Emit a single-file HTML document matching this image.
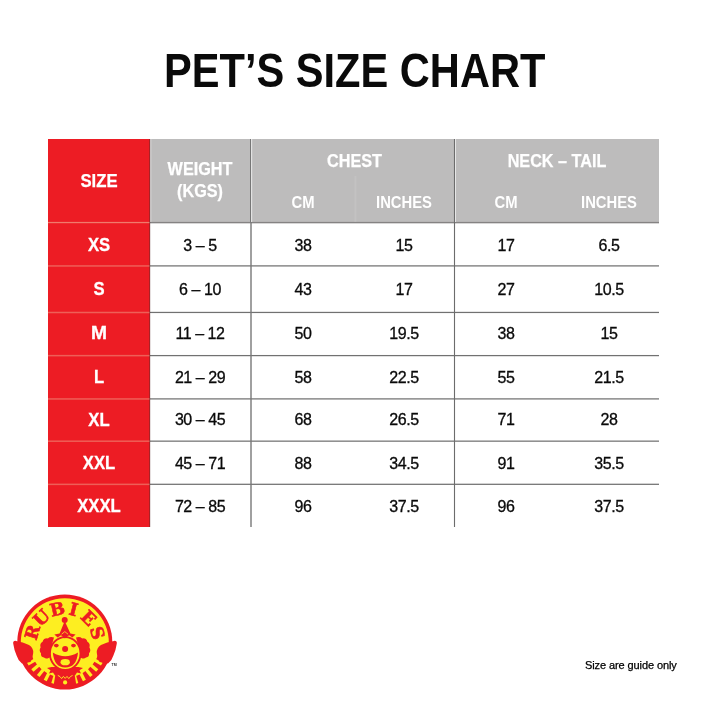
<!DOCTYPE html>
<html lang="en">
<head>
<meta charset="utf-8">
<title>Pet's Size Chart</title>
<style>
html,body{margin:0;padding:0;background:#fff;}
body{width:708px;height:708px;position:relative;overflow:hidden;font-family:"Liberation Sans",sans-serif;}
.abs{position:absolute;}
#title{left:164px;top:40.3px;width:500px;height:60px;white-space:nowrap;font-weight:bold;font-size:48.7px;line-height:60px;color:#0a0a0a;transform:scaleX(0.8545);transform-origin:0 50%;}
#title span{display:inline-block;transform-origin:0 50%;}
.red{background:#ed1c24;}
.gray{background:#bdbcbc;}
.hl{height:1px;background:#8a8a8a;left:150px;width:509px;}
.hlr{height:1px;background:#f2756f;left:48px;width:102px;}
.vl{width:1px;background:#7e7e7e;}
.vll{width:1px;background:#d9d9d9;}
.c{text-align:center;white-space:nowrap;}
.hd{color:#fff;font-weight:bold;font-size:18px;line-height:20px;transform:scaleX(0.9);-webkit-text-stroke:0.25px #fff;}
.sub{color:#fff;font-weight:bold;font-size:17px;line-height:20px;transform:scaleX(0.87);}
.sz{color:#fff;font-weight:bold;font-size:18.5px;line-height:20px;left:48px;width:102px;transform:scaleX(0.9);-webkit-text-stroke:0.3px #fff;}
.d{color:#0a0a0a;font-size:16px;line-height:20px;width:100px;letter-spacing:-0.45px;-webkit-text-stroke:0.3px #0a0a0a;}
.w{left:150px;}
.c1{left:253px;}
.c2{left:354px;}
.n1{left:456px;}
.n2{left:559px;}
#note{left:585px;top:657px;font-size:11px;letter-spacing:-0.1px;line-height:16px;color:#000;white-space:nowrap;-webkit-text-stroke:0.25px #000;}
</style>
</head>
<body>
<div id="title" class="abs"><span>PET’S SIZE CHART</span></div>

<!-- table backgrounds -->
<div class="abs red" style="left:48px;top:139px;width:102px;height:388px;"></div>
<div class="abs gray" style="left:150px;top:139px;width:509px;height:83px;"></div>

<!-- RULES -->
<svg id="rules" class="abs" style="left:0;top:0;" width="708" height="708" viewBox="0 0 708 708">
<rect x="150" y="221.9" width="509" height="1.25" fill="#858383"/>
<rect x="150" y="223.1" width="509" height="0.9" fill="#000" fill-opacity="0.1"/>
<rect x="48" y="221.9" width="102" height="1.3" fill="#f07a6c"/>
<rect x="150" y="265.28" width="509" height="1.24" fill="#717171"/>
<rect x="48" y="265.20" width="102" height="1.5" fill="#ee5f57"/>
<rect x="150" y="311.83" width="509" height="1.24" fill="#717171"/>
<rect x="48" y="311.75" width="102" height="1.5" fill="#ee5f57"/>
<rect x="150" y="354.98" width="509" height="1.24" fill="#717171"/>
<rect x="48" y="354.90" width="102" height="1.5" fill="#ee5f57"/>
<rect x="150" y="398.28" width="509" height="1.24" fill="#717171"/>
<rect x="48" y="398.20" width="102" height="1.5" fill="#ee5f57"/>
<rect x="150" y="440.53" width="509" height="1.24" fill="#717171"/>
<rect x="48" y="440.45" width="102" height="1.5" fill="#ee5f57"/>
<rect x="150" y="483.68" width="509" height="1.24" fill="#717171"/>
<rect x="48" y="483.60" width="102" height="1.5" fill="#ee5f57"/>
<rect x="149.1" y="139" width="1.2" height="388" fill="#5a2a2a" fill-opacity="0.5"/>
<rect x="150.3" y="139" width="1" height="83" fill="#fff" fill-opacity="0.45"/>
<rect x="250.3" y="139" width="1.4" height="388" fill="#787878"/>
<rect x="251" y="139" width="1.2" height="83" fill="#e2e2e2"/>
<rect x="250" y="139" width="1" height="83" fill="#777"/>
<rect x="453.95" y="139" width="1.1" height="388" fill="#6c6c6c"/>
<rect x="455" y="139" width="1" height="83" fill="#e6e6e6"/>
<rect x="354.4" y="176" width="2" height="46" fill="#fff" fill-opacity="0.1"/>
</svg>

<!-- header text -->
<div class="abs c hd" style="left:47.8px;width:102px;top:170.6px;transform:scaleX(0.93);">SIZE</div>
<div class="abs c hd" style="left:150px;width:100px;top:158.3px;line-height:22px;">WEIGHT<br>(KGS)</div>
<div class="abs c hd" style="left:252.5px;width:203px;top:150.8px;">CHEST</div>
<div class="abs c hd" style="left:455px;width:204px;top:150.8px;">NECK – TAIL</div>
<div class="abs c sub c1" style="width:100px;top:193px;">CM</div>
<div class="abs c sub c2" style="width:100px;top:193px;">INCHES</div>
<div class="abs c sub n1" style="width:100px;top:193px;">CM</div>
<div class="abs c sub n2" style="width:100px;top:193px;">INCHES</div>

<!-- rows -->
<div class="abs c sz" style="top:234.8px;">XS</div>
<div class="abs c d w" style="top:235.5px;">3 – 5</div>
<div class="abs c d c1" style="top:235.5px;">38</div>
<div class="abs c d c2" style="top:235.5px;">15</div>
<div class="abs c d n1" style="top:235.5px;">17</div>
<div class="abs c d n2" style="top:235.5px;">6.5</div>

<div class="abs c sz" style="top:278.9px;">S</div>
<div class="abs c d w" style="top:279.6px;">6 – 10</div>
<div class="abs c d c1" style="top:279.6px;">43</div>
<div class="abs c d c2" style="top:279.6px;">17</div>
<div class="abs c d n1" style="top:279.6px;">27</div>
<div class="abs c d n2" style="top:279.6px;">10.5</div>

<div class="abs c sz" style="top:323.0px;transform:scaleX(1.04);">M</div>
<div class="abs c d w" style="top:323.7px;">11 – 12</div>
<div class="abs c d c1" style="top:323.7px;">50</div>
<div class="abs c d c2" style="top:323.7px;">19.5</div>
<div class="abs c d n1" style="top:323.7px;">38</div>
<div class="abs c d n2" style="top:323.7px;">15</div>

<div class="abs c sz" style="top:367.0px;">L</div>
<div class="abs c d w" style="top:367.7px;">21 – 29</div>
<div class="abs c d c1" style="top:367.7px;">58</div>
<div class="abs c d c2" style="top:367.7px;">22.5</div>
<div class="abs c d n1" style="top:367.7px;">55</div>
<div class="abs c d n2" style="top:367.7px;">21.5</div>

<div class="abs c sz" style="top:409.6px;">XL</div>
<div class="abs c d w" style="top:410.3px;">30 – 45</div>
<div class="abs c d c1" style="top:410.3px;">68</div>
<div class="abs c d c2" style="top:410.3px;">26.5</div>
<div class="abs c d n1" style="top:410.3px;">71</div>
<div class="abs c d n2" style="top:410.3px;">28</div>

<div class="abs c sz" style="top:453.0px;">XXL</div>
<div class="abs c d w" style="top:453.7px;">45 – 71</div>
<div class="abs c d c1" style="top:453.7px;">88</div>
<div class="abs c d c2" style="top:453.7px;">34.5</div>
<div class="abs c d n1" style="top:453.7px;">91</div>
<div class="abs c d n2" style="top:453.7px;">35.5</div>

<div class="abs c sz" style="top:496.0px;">XXXL</div>
<div class="abs c d w" style="top:496.7px;">72 – 85</div>
<div class="abs c d c1" style="top:496.7px;">96</div>
<div class="abs c d c2" style="top:496.7px;">37.5</div>
<div class="abs c d n1" style="top:496.7px;">96</div>
<div class="abs c d n2" style="top:496.7px;">37.5</div>

<div id="note" class="abs">Size are guide only</div>

<!-- LOGO -->
<svg id="logo" class="abs" style="left:0;top:585px;" width="130" height="120" viewBox="0 585 130 120" role="img" aria-label="Rubies">
<defs><path id="arc" d="M 37.2 642.0 A 27.6 27.6 0 0 1 92.4 642.0"/></defs>
<circle cx="64.8" cy="642.0" r="47.5" fill="#ed1c24"/>
<path d="M 21.2 648.1 A 44 44 0 1 1 108.4 648.1 L 100.4 647.0 A 36 36 0 0 1 29.2 647.0 Z" fill="#fdee21"/>
<g stroke="#fdee21" stroke-width="3.3"><line x1="93.5" y1="659.3" x2="101.8" y2="664.2"/><line x1="36.1" y1="659.3" x2="27.8" y2="664.2"/><line x1="89.9" y1="664.2" x2="97.2" y2="670.6"/><line x1="39.7" y1="664.2" x2="32.4" y2="670.6"/><line x1="85.4" y1="668.4" x2="91.4" y2="676.0"/><line x1="44.2" y1="668.4" x2="38.2" y2="676.0"/><line x1="80.0" y1="671.8" x2="84.4" y2="680.5"/><line x1="49.6" y1="671.8" x2="45.2" y2="680.5"/><line x1="74.0" y1="674.2" x2="76.7" y2="683.5"/><line x1="55.6" y1="674.2" x2="52.9" y2="683.5"/></g>
<path d="M13.2 643.5 Q12.8 640.6 16 640.9 Q23 641.6 29 645 Q33.6 647.8 33.2 653 Q32.8 658.5 30.5 662 L22 663.5 Q18 660.5 16.6 655.5 Q14 649.5 13.2 643.5 Z" fill="#ed1c24"/>
<path d="M 116.8 643.5 Q 117.2 640.6 114 640.9 Q 107 641.6 101 645 Q 96.4 647.8 96.8 653 Q 97.2 658.5 99.5 662 L 108 663.5 Q 112 660.5 113.4 655.5 Q 116 649.5 116.8 643.5 Z" fill="#ed1c24"/>
<path d="M56 671 L74 671 L76.5 686 L53.5 686 Z" fill="#ed1c24"/>
<path d="M47 668 L51.5 667 L78.5 667 L83 668 L79.5 670.3 L81 673.6 L77 672.4 L75 675.4 L55 675.4 L53 672.4 L49 673.6 L50.5 670.3 Z" fill="#ed1c24"/>
<polyline points="57.8,675.4 60,676.6 61.6,678.6 63.4,676.4 65.2,678.4 67,676.4 68.8,678.6 70.4,676.6 72.6,675.4" fill="none" stroke="#fdee21" stroke-width="0.9" stroke-linejoin="miter"/>
<circle cx="65.1" cy="682.4" r="2.1" fill="#fdee21"/>
<path d="M54 637.6 Q50.5 636 47.8 638.4 Q43.6 638 42.6 641.8 Q39.4 643.6 40.6 647.4 Q38.6 650.4 41 653.2 Q40.4 656.8 44 657.6 Q46 659.4 48.6 658 L52 656 L51 648 Z" fill="#ed1c24"/>
<path d="M 76 637.6 Q 79.5 636 82.2 638.4 Q 86.4 638 87.4 641.8 Q 90.6 643.6 89.4 647.4 Q 91.4 650.4 89 653.2 Q 89.6 656.8 86 657.6 Q 84 659.4 81.4 658 L 78 656 L 79 648 Z" fill="#ed1c24"/>
<ellipse cx="65.2" cy="653.5" rx="15.3" ry="16.4" fill="#fdee21" stroke="#ed1c24" stroke-width="1.9"/>
<path d="M64.7 621 L70.4 633.6 L75.6 634.6 L72.4 637.4 L69 635.2 L65 638.4 L61 635.2 L57.6 637.4 L54.4 634.6 L59.6 633.6 Z" fill="#ed1c24"/>
<path d="M61.6 634.2 L64.8 631.6 L68 634.2" fill="none" stroke="#fdee21" stroke-width="0.8"/>
<circle cx="64.7" cy="620" r="3" fill="#ed1c24"/>
<ellipse cx="56.3" cy="645.6" rx="2.4" ry="1.8" fill="#ed1c24"/>
<ellipse cx="73.5" cy="645.6" rx="2.4" ry="1.8" fill="#ed1c24"/>
<circle cx="65.1" cy="649.1" r="3" fill="#ed1c24"/>
<path d="M52.8 652.4 Q65 660 78 652.4 Q76.6 667.4 65.2 667.4 Q54.2 667.4 52.8 652.4 Z" fill="#ed1c24"/>
<ellipse cx="65.2" cy="662.2" rx="4.7" ry="3.1" fill="#fdee21"/>
<text font-family="'DejaVu Serif','Liberation Serif',serif" font-weight="bold" font-size="17.5" fill="#ed1c24" stroke="#ed1c24" stroke-width="0.6" stroke-linejoin="round"><textPath href="#arc" startOffset="0"><tspan dx="0.77 -0.79 -0.09 1.85 3.50 1.32">RUBIES</tspan></textPath></text>
<text x="111.6" y="666.2" font-family="'Liberation Sans',sans-serif" font-weight="bold" font-size="3.6" fill="#333">TM</text>
</svg>

</body>
</html>
